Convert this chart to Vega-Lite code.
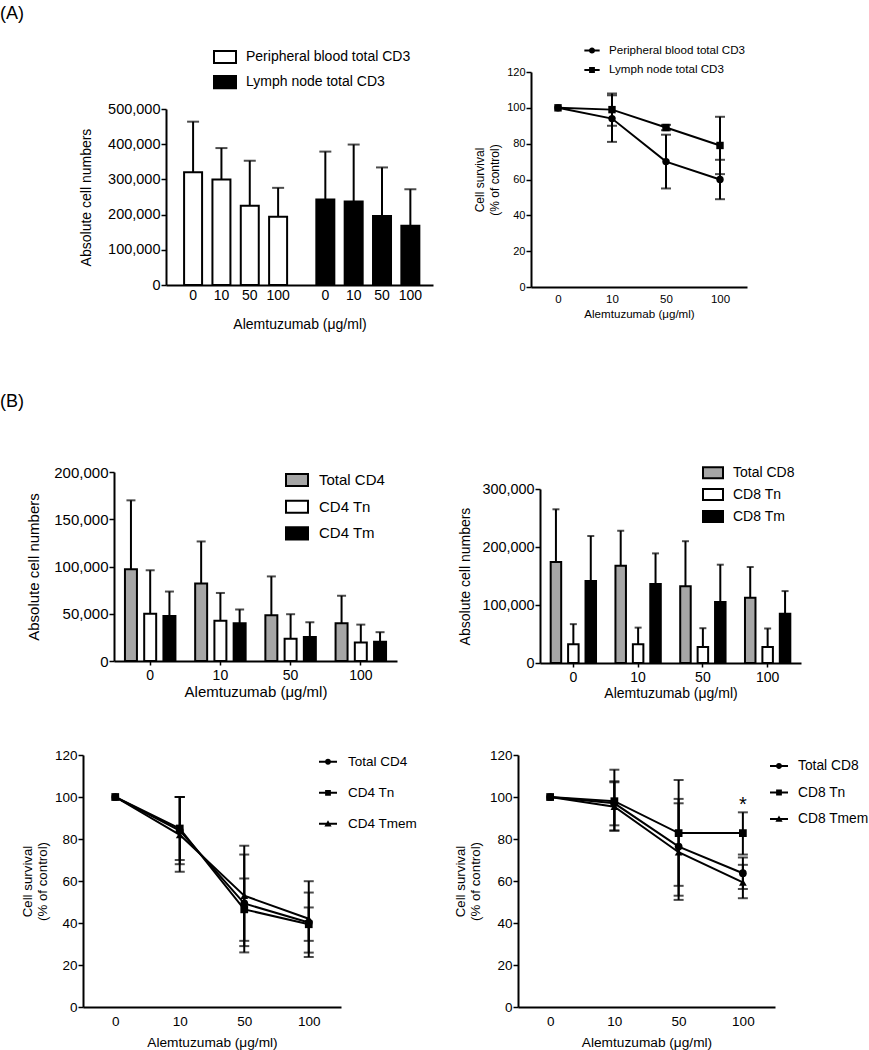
{
  "$schema": "https://vega.github.io/schema/vega-lite/v6.json",
  "padding": {"left": 0, "top": 4, "right": 0, "bottom": 0},
  "background": "white",
  "bounds": "flush",
  "spacing": 0,
  "columns": 2,
  "align": {"row": "each", "column": "none"},
  "resolve": {"scale": {"x": "independent", "y": "independent", "xOffset": "independent", "fill": "independent", "shape": "independent"}, "axis": {"x": "independent", "y": "independent"}, "legend": {"fill": "independent", "shape": "independent"}},
  "title": {"text": "(A)", "anchor": "start", "frame": "group", "dx": -83, "fontSize": 18, "offset": 20},
  "config": {
    "font": "Liberation Sans",
    "view": {"stroke": null},
    "axis": {"domainColor": "black", "domainWidth": 2, "tickColor": "black", "tickWidth": 1.5, "tickSize": 5, "labelColor": "black", "titleColor": "black", "titleFontWeight": "normal", "grid": false, "labelPadding": 1, "labelOverlap": false, "labelFont": "Liberation Sans", "titleFont": "Liberation Sans"},
    "legend": {"labelColor": "black", "labelFont": "Liberation Sans", "padding": 0, "titlePadding": 0, "labelLimit": 300},
    "title": {"color": "black", "font": "Liberation Sans", "fontWeight": "normal", "fontSize": 18, "anchor": "start", "frame": "group"},
    "concat": {"spacing": 0}
  },
  "datasets": {
    "cd3bars": [
      {"tissue": "Peripheral blood total CD3", "dose": 0, "mean": 320000, "high": 464000},
      {"tissue": "Peripheral blood total CD3", "dose": 10, "mean": 300000, "high": 389000},
      {"tissue": "Peripheral blood total CD3", "dose": 50, "mean": 225000, "high": 353000},
      {"tissue": "Peripheral blood total CD3", "dose": 100, "mean": 194000, "high": 276000},
      {"tissue": "Lymph node total CD3", "dose": 0, "mean": 243000, "high": 379000},
      {"tissue": "Lymph node total CD3", "dose": 10, "mean": 237000, "high": 399000},
      {"tissue": "Lymph node total CD3", "dose": 50, "mean": 196000, "high": 334000},
      {"tissue": "Lymph node total CD3", "dose": 100, "mean": 168000, "high": 272000}
    ],
    "cd3surv": [
      {"series": "Peripheral blood total CD3", "dose": 0, "mean": 100},
      {"series": "Peripheral blood total CD3", "dose": 10, "mean": 94, "low": 81, "high": 107},
      {"series": "Peripheral blood total CD3", "dose": 50, "mean": 70, "low": 55, "high": 85},
      {"series": "Peripheral blood total CD3", "dose": 100, "mean": 60, "low": 49, "high": 71},
      {"series": "Lymph node total CD3", "dose": 0, "mean": 100},
      {"series": "Lymph node total CD3", "dose": 10, "mean": 99, "low": 90, "high": 108},
      {"series": "Lymph node total CD3", "dose": 50, "mean": 89, "low": 87.5, "high": 90.5},
      {"series": "Lymph node total CD3", "dose": 100, "mean": 79, "low": 63, "high": 95}
    ],
    "cd4bars": [
      {"dose": 0, "series": "Total CD4", "mean": 97000, "high": 170000},
      {"dose": 0, "series": "CD4 Tn", "mean": 50000, "high": 96000},
      {"dose": 0, "series": "CD4 Tm", "mean": 47500, "high": 73500},
      {"dose": 10, "series": "Total CD4", "mean": 82000, "high": 126500},
      {"dose": 10, "series": "CD4 Tn", "mean": 42500, "high": 72000},
      {"dose": 10, "series": "CD4 Tm", "mean": 40000, "high": 54500},
      {"dose": 50, "series": "Total CD4", "mean": 48500, "high": 89500},
      {"dose": 50, "series": "CD4 Tn", "mean": 23500, "high": 49500},
      {"dose": 50, "series": "CD4 Tm", "mean": 25500, "high": 41000},
      {"dose": 100, "series": "Total CD4", "mean": 40000, "high": 69000},
      {"dose": 100, "series": "CD4 Tn", "mean": 19500, "high": 38500},
      {"dose": 100, "series": "CD4 Tm", "mean": 20500, "high": 30500}
    ],
    "cd8bars": [
      {"dose": 0, "series": "Total CD8", "mean": 174000, "high": 265000},
      {"dose": 0, "series": "CD8 Tn", "mean": 32500, "high": 67000},
      {"dose": 0, "series": "CD8 Tm", "mean": 141500, "high": 219000},
      {"dose": 10, "series": "Total CD8", "mean": 167500, "high": 228000},
      {"dose": 10, "series": "CD8 Tn", "mean": 32500, "high": 61000},
      {"dose": 10, "series": "CD8 Tm", "mean": 136000, "high": 189000},
      {"dose": 50, "series": "Total CD8", "mean": 132500, "high": 210000},
      {"dose": 50, "series": "CD8 Tn", "mean": 27500, "high": 60000},
      {"dose": 50, "series": "CD8 Tm", "mean": 105000, "high": 169500},
      {"dose": 100, "series": "Total CD8", "mean": 112500, "high": 165500},
      {"dose": 100, "series": "CD8 Tn", "mean": 27500, "high": 59500},
      {"dose": 100, "series": "CD8 Tm", "mean": 85000, "high": 124000}
    ],
    "cd4surv": [
      {"series": "Total CD4", "dose": 0, "mean": 100},
      {"series": "Total CD4", "dose": 10, "mean": 84, "low": 68, "high": 100},
      {"series": "Total CD4", "dose": 50, "mean": 49.3, "low": 26, "high": 72.6},
      {"series": "Total CD4", "dose": 100, "mean": 40.2, "low": 25.9, "high": 54.5},
      {"series": "CD4 Tn", "dose": 0, "mean": 100},
      {"series": "CD4 Tn", "dose": 10, "mean": 85, "low": 70, "high": 100},
      {"series": "CD4 Tn", "dose": 50, "mean": 46.5, "low": 31.5, "high": 61.2},
      {"series": "CD4 Tn", "dose": 100, "mean": 39.4, "low": 31.5, "high": 47.4},
      {"series": "CD4 Tmem", "dose": 0, "mean": 100},
      {"series": "CD4 Tmem", "dose": 10, "mean": 82, "low": 64.4, "high": 100},
      {"series": "CD4 Tmem", "dose": 50, "mean": 53, "low": 29, "high": 76.8},
      {"series": "CD4 Tmem", "dose": 100, "mean": 42, "low": 23.8, "high": 59.9}
    ],
    "cd8surv": [
      {"series": "Total CD8", "dose": 0, "mean": 100},
      {"series": "Total CD8", "dose": 10, "mean": 97, "low": 86.5, "high": 107.5},
      {"series": "Total CD8", "dose": 50, "mean": 76.4, "low": 53, "high": 99.1},
      {"series": "Total CD8", "dose": 100, "mean": 63.7, "low": 56.2, "high": 71.2},
      {"series": "CD8 Tn", "dose": 0, "mean": 100},
      {"series": "CD8 Tn", "dose": 10, "mean": 98, "low": 84, "high": 113},
      {"series": "CD8 Tn", "dose": 50, "mean": 82.8, "low": 57.7, "high": 108.1},
      {"series": "CD8 Tn", "dose": 100, "mean": 82.8, "low": 72.6, "high": 92.7},
      {"series": "CD8 Tmem", "dose": 0, "mean": 100},
      {"series": "CD8 Tmem", "dose": 10, "mean": 95.4, "low": 84, "high": 107},
      {"series": "CD8 Tmem", "dose": 50, "mean": 73.7, "low": 51, "high": 97},
      {"series": "CD8 Tmem", "dose": 100, "mean": 59.3, "low": 51.8, "high": 67.7}
    ]
  },
  "concat": [
    {
      "width": 435, "height": 213,
      "data": {"name": "cd3bars"},
      "encoding": {
        "x": {"field": "tissue", "type": "nominal", "sort": ["Peripheral blood total CD3", "Lymph node total CD3"],
              "scale": {"range": [83, 350], "paddingInner": 0.221, "paddingOuter": 0.12, "align": 0.57},
              "axis": {"labels": false, "ticks": false, "title": "Alemtuzumab (μg/ml)", "titleFontSize": 14, "titlePadding": 32}},
        "xOffset": {"field": "dose", "type": "ordinal", "scale": {"paddingInner": 0.365, "paddingOuter": 0}}
      },
      "layer": [
        {"mark": {"type": "bar", "stroke": "black", "strokeWidth": 2},
         "encoding": {
           "y": {"field": "mean", "type": "quantitative", "scale": {"domain": [0, 500000], "nice": false, "range": [213, 37]},
                 "axis": {"offset": -83, "values": [0, 100000, 200000, 300000, 400000, 500000], "format": ",.0f", "title": "Absolute cell numbers", "labelFontSize": 14.5, "titleFontSize": 14, "titlePadding": 14}},
           "fill": {"field": "tissue", "type": "nominal", "scale": {"domain": ["Peripheral blood total CD3", "Lymph node total CD3"], "range": ["white", "black"]},
                    "legend": {"orient": "none", "legendX": 130, "legendY": -27, "title": null, "symbolType": "M-1,-0.55H1V0.55H-1Z", "symbolSize": 484, "symbolStrokeColor": "black", "symbolStrokeWidth": 2, "labelFontSize": 14, "labelOffset": 9, "rowPadding": 2.1}}
         }},
        {"mark": {"type": "rule", "color": "black", "strokeWidth": 2},
         "encoding": {"y": {"field": "mean", "type": "quantitative"}, "y2": {"field": "high"}}},
        {"mark": {"type": "tick", "color": "black", "thickness": 2, "size": 12},
         "encoding": {"y": {"field": "high", "type": "quantitative"}}},
        {"mark": {"type": "text", "fontSize": 14, "dy": 11, "color": "black"},
         "encoding": {"y": {"datum": 0, "type": "quantitative"}, "text": {"field": "dose"}}}
      ]
    },
    {
      "width": 229, "height": 215,
      "data": {"name": "cd3surv"},
      "encoding": {
        "x": {"field": "dose", "type": "ordinal", "scale": {"type": "point", "padding": 0.5, "range": [13, 229]},
              "axis": {"ticks": false, "labelAngle": 0, "labelFontSize": 11.5, "labelPadding": 6, "title": "Alemtuzumab (μg/ml)", "titleFontSize": 11.6, "titlePadding": 4}},
        "y": {"field": "mean", "type": "quantitative", "scale": {"domain": [0, 120], "nice": false},
              "axis": {"offset": -13, "values": [0, 20, 40, 60, 80, 100, 120], "tickCount": 7, "labelOverlap": false, "title": ["Cell survival", "(% of control)"], "labelFontSize": 11, "titleFontSize": 12, "titleLineHeight": 15, "titlePadding": 5}}
      },
      "resolve": {"scale": {"shape": "independent"}, "legend": {"shape": "independent"}},
      "layer": [
        {"mark": {"type": "line", "color": "black", "strokeWidth": 2},
         "encoding": {"detail": {"field": "series"}}},
        {"transform": [{"filter": "datum.high != null"}], "mark": {"type": "rule", "color": "black", "strokeWidth": 2},
         "encoding": {"y": {"field": "low", "type": "quantitative"}, "y2": {"field": "high"}}},
        {"transform": [{"filter": "datum.high != null"}], "mark": {"type": "tick", "color": "black", "thickness": 2, "size": 10},
         "encoding": {"y": {"field": "low", "type": "quantitative"}}},
        {"transform": [{"filter": "datum.high != null"}], "mark": {"type": "tick", "color": "black", "thickness": 2, "size": 10},
         "encoding": {"y": {"field": "high", "type": "quantitative"}}},
        {"mark": {"type": "point", "filled": true, "color": "black", "opacity": 1, "size": 55},
         "encoding": {"shape": {"field": "series", "type": "nominal", "scale": {"domain": ["Peripheral blood total CD3", "Lymph node total CD3"], "range": ["circle", "square"]}, "legend": null}}},
        {"mark": {"type": "point", "filled": true, "color": "black", "opacity": 0, "size": 10},
         "encoding": {"shape": {"field": "series", "type": "nominal",
                                "scale": {"domain": ["Peripheral blood total CD3", "Lymph node total CD3"], "range": ["M-1,-0.13H1V0.13H-1ZM-0.4,0A0.4,0.4,0,1,1,0.4,0A0.4,0.4,0,1,1,-0.4,0Z", "M-1,-0.13H1V0.13H-1ZM-0.38,-0.38H0.38V0.38H-0.38Z"]},
                                "legend": {"orient": "none", "legendX": 66, "legendY": -29.5, "title": null, "symbolSize": 234, "symbolOpacity": 1, "labelFontSize": 11.6, "labelOffset": 9, "rowPadding": 5.5, "symbolFillColor": "black", "symbolStrokeWidth": 0}}}}
      ]
    },
    {"width": 1, "height": 184, "data": {"values": []}, "mark": "point"},
    {"width": 1, "height": 1, "data": {"values": []}, "mark": "point"},
    {"width": 1, "height": 1, "data": {"values": []}, "mark": "point",
     "title": {"text": "(B)", "anchor": "start", "frame": "group", "dx": -83, "fontSize": 18, "offset": 60}},
    {"width": 1, "height": 1, "data": {"values": []}, "mark": "point"},
    {
      "width": 435, "height": 189,
      "data": {"name": "cd4bars"},
      "encoding": {
        "x": {"field": "dose", "type": "ordinal", "scale": {"range": [31, 314], "paddingInner": 0.281, "paddingOuter": 0.156},
              "axis": {"labelAngle": 0, "labelFontSize": 14, "tickSize": 4, "labelPadding": 3, "title": "Alemtuzumab (μg/ml)", "titleFontSize": 15, "titlePadding": 2}},
        "xOffset": {"field": "series", "type": "nominal", "sort": ["Total CD4", "CD4 Tn", "CD4 Tm"], "scale": {"paddingInner": 0.377, "paddingOuter": 0}}
      },
      "layer": [
        {"mark": {"type": "bar", "stroke": "black", "strokeWidth": 2},
         "encoding": {
           "y": {"field": "mean", "type": "quantitative", "scale": {"domain": [0, 200000], "nice": false},
                 "axis": {"offset": -31, "values": [0, 50000, 100000, 150000, 200000], "format": ",.0f", "title": "Absolute cell numbers", "labelFontSize": 15, "titleFontSize": 15, "titlePadding": 12}},
           "fill": {"field": "series", "type": "nominal", "scale": {"domain": ["Total CD4", "CD4 Tn", "CD4 Tm"], "range": ["#a6a6a6", "white", "black"]},
                    "legend": {"orient": "none", "legendX": 202, "legendY": -4, "title": null, "symbolType": "M-1,-0.55H1V0.55H-1Z", "symbolSize": 484, "symbolStrokeColor": "black", "symbolStrokeWidth": 2, "labelFontSize": 15, "labelOffset": 10, "rowPadding": 3.7}}
         }},
        {"mark": {"type": "rule", "color": "black", "strokeWidth": 2},
         "encoding": {"y": {"field": "mean", "type": "quantitative"}, "y2": {"field": "high"}}},
        {"mark": {"type": "tick", "color": "black", "thickness": 2, "size": 9},
         "encoding": {"y": {"field": "high", "type": "quantitative"}}}
      ]
    },
    {
      "width": 283, "height": 191,
      "data": {"name": "cd8bars"},
      "encoding": {
        "x": {"field": "dose", "type": "ordinal", "scale": {"range": [22, 283], "paddingInner": 0.30, "paddingOuter": 0.165},
              "axis": {"labelAngle": 0, "labelFontSize": 14, "tickSize": 4, "labelPadding": 3, "title": "Alemtuzumab (μg/ml)", "titleFontSize": 14, "titlePadding": 2}},
        "xOffset": {"field": "series", "type": "nominal", "sort": ["Total CD8", "CD8 Tn", "CD8 Tm"], "scale": {"paddingInner": 0.397, "paddingOuter": 0}}
      },
      "layer": [
        {"mark": {"type": "bar", "stroke": "black", "strokeWidth": 2},
         "encoding": {
           "y": {"field": "mean", "type": "quantitative", "scale": {"domain": [0, 300000], "nice": false, "range": [191, 17]},
                 "axis": {"offset": -22, "values": [0, 100000, 200000, 300000], "format": ",.0f", "title": "Absolute cell numbers", "labelFontSize": 14.4, "titleFontSize": 14, "titlePadding": 9}},
           "fill": {"field": "series", "type": "nominal", "scale": {"domain": ["Total CD8", "CD8 Tn", "CD8 Tm"], "range": ["#a6a6a6", "white", "black"]},
                    "legend": {"orient": "none", "legendX": 184, "legendY": -10.3, "title": null, "symbolType": "M-1,-0.55H1V0.55H-1Z", "symbolSize": 400, "symbolStrokeColor": "black", "symbolStrokeWidth": 2, "labelFontSize": 14, "labelOffset": 9, "rowPadding": 0.9}}
         }},
        {"mark": {"type": "rule", "color": "black", "strokeWidth": 2},
         "encoding": {"y": {"field": "mean", "type": "quantitative"}, "y2": {"field": "high"}}},
        {"mark": {"type": "tick", "color": "black", "thickness": 2, "size": 7},
         "encoding": {"y": {"field": "high", "type": "quantitative"}}}
      ]
    },
    {"width": 1, "height": 92, "data": {"values": []}, "mark": "point"},
    {"width": 1, "height": 1, "data": {"values": []}, "mark": "point"},
    {
      "width": 435, "height": 252,
      "data": {"name": "cd4surv"},
      "encoding": {
        "x": {"field": "dose", "type": "ordinal", "scale": {"type": "point", "padding": 0.5, "range": [0, 258]},
              "axis": {"ticks": false, "labelAngle": 0, "labelFontSize": 13.5, "labelPadding": 7, "title": "Alemtuzumab (μg/ml)", "titleFontSize": 13.7, "titlePadding": 8}},
        "y": {"field": "mean", "type": "quantitative", "scale": {"domain": [0, 120], "nice": false},
              "axis": {"values": [0, 20, 40, 60, 80, 100, 120], "tickCount": 7, "title": ["Cell survival", "(% of control)"], "labelFontSize": 13.5, "titleFontSize": 13.3, "titleLineHeight": 15, "titlePadding": 5}}
      },
      "resolve": {"scale": {"shape": "independent"}, "legend": {"shape": "independent"}},
      "layer": [
        {"mark": {"type": "line", "color": "black", "strokeWidth": 2},
         "encoding": {"detail": {"field": "series"}}},
        {"transform": [{"filter": "datum.high != null"}], "mark": {"type": "rule", "color": "black", "strokeWidth": 2},
         "encoding": {"y": {"field": "low", "type": "quantitative"}, "y2": {"field": "high"}}},
        {"transform": [{"filter": "datum.high != null"}], "mark": {"type": "tick", "color": "black", "thickness": 2, "size": 10},
         "encoding": {"y": {"field": "low", "type": "quantitative"}}},
        {"transform": [{"filter": "datum.high != null"}], "mark": {"type": "tick", "color": "black", "thickness": 2, "size": 10},
         "encoding": {"y": {"field": "high", "type": "quantitative"}}},
        {"mark": {"type": "point", "filled": true, "color": "black", "opacity": 1, "size": 60},
         "encoding": {"shape": {"field": "series", "type": "nominal", "scale": {"domain": ["Total CD4", "CD4 Tn", "CD4 Tmem"], "range": ["circle", "square", "triangle-up"]}, "legend": null}}},
        {"mark": {"type": "point", "filled": true, "color": "black", "opacity": 0, "size": 10},
         "encoding": {"shape": {"field": "series", "type": "nominal",
                                "scale": {"domain": ["Total CD4", "CD4 Tn", "CD4 Tmem"], "range": ["M-1,-0.11H1V0.11H-1ZM-0.33,0A0.33,0.33,0,1,1,0.33,0A0.33,0.33,0,1,1,-0.33,0Z", "M-1,-0.11H1V0.11H-1ZM-0.32,-0.32H0.32V0.32H-0.32Z", "M-1,-0.11H1V0.11H-1ZM0,-0.4L0.4,0.3H-0.4Z"]},
                                "legend": {"orient": "none", "legendX": 236, "legendY": -2.2, "title": null, "symbolSize": 324, "symbolOpacity": 1, "labelFontSize": 13.5, "labelOffset": 11, "rowPadding": 15, "symbolFillColor": "black", "symbolStrokeWidth": 0}}}}
      ]
    },
    {
      "width": 257, "height": 252,
      "data": {"name": "cd8surv"},
      "encoding": {
        "x": {"field": "dose", "type": "ordinal", "scale": {"type": "point", "padding": 0.5},
              "axis": {"ticks": false, "labelAngle": 0, "labelFontSize": 13.5, "labelPadding": 7, "title": "Alemtuzumab (μg/ml)", "titleFontSize": 13.7, "titlePadding": 8}},
        "y": {"field": "mean", "type": "quantitative", "scale": {"domain": [0, 120], "nice": false},
              "axis": {"values": [0, 20, 40, 60, 80, 100, 120], "tickCount": 7, "title": ["Cell survival", "(% of control)"], "labelFontSize": 13.5, "titleFontSize": 13.3, "titleLineHeight": 15, "titlePadding": 7}}
      },
      "resolve": {"scale": {"shape": "independent"}, "legend": {"shape": "independent"}},
      "layer": [
        {"mark": {"type": "line", "color": "black", "strokeWidth": 2},
         "encoding": {"detail": {"field": "series"}}},
        {"transform": [{"filter": "datum.high != null"}], "mark": {"type": "rule", "color": "black", "strokeWidth": 2},
         "encoding": {"y": {"field": "low", "type": "quantitative"}, "y2": {"field": "high"}}},
        {"transform": [{"filter": "datum.high != null"}], "mark": {"type": "tick", "color": "black", "thickness": 2, "size": 10},
         "encoding": {"y": {"field": "low", "type": "quantitative"}}},
        {"transform": [{"filter": "datum.high != null"}], "mark": {"type": "tick", "color": "black", "thickness": 2, "size": 10},
         "encoding": {"y": {"field": "high", "type": "quantitative"}}},
        {"mark": {"type": "point", "filled": true, "color": "black", "opacity": 1, "size": 60},
         "encoding": {"shape": {"field": "series", "type": "nominal", "scale": {"domain": ["Total CD8", "CD8 Tn", "CD8 Tmem"], "range": ["circle", "square", "triangle-up"]}, "legend": null}}},
        {"mark": {"type": "point", "filled": true, "color": "black", "opacity": 0, "size": 10},
         "encoding": {"shape": {"field": "series", "type": "nominal",
                                "scale": {"domain": ["Total CD8", "CD8 Tn", "CD8 Tmem"], "range": ["M-1,-0.11H1V0.11H-1ZM-0.33,0A0.33,0.33,0,1,1,0.33,0A0.33,0.33,0,1,1,-0.33,0Z", "M-1,-0.11H1V0.11H-1ZM-0.32,-0.32H0.32V0.32H-0.32Z", "M-1,-0.11H1V0.11H-1ZM0,-0.4L0.4,0.3H-0.4Z"]},
                                "legend": {"orient": "none", "legendX": 252, "legendY": 2, "title": null, "symbolSize": 324, "symbolOpacity": 1, "labelFontSize": 13.8, "labelOffset": 10, "rowPadding": 10.5, "symbolFillColor": "black", "symbolStrokeWidth": 0}}}},
        {"data": {"values": [{"dose": 100, "y": 96, "label": "*"}]},
         "mark": {"type": "text", "fontSize": 20, "color": "black"},
         "encoding": {"text": {"field": "label"}, "y": {"field": "y", "type": "quantitative"}}}
      ]
    }
  ]
}
